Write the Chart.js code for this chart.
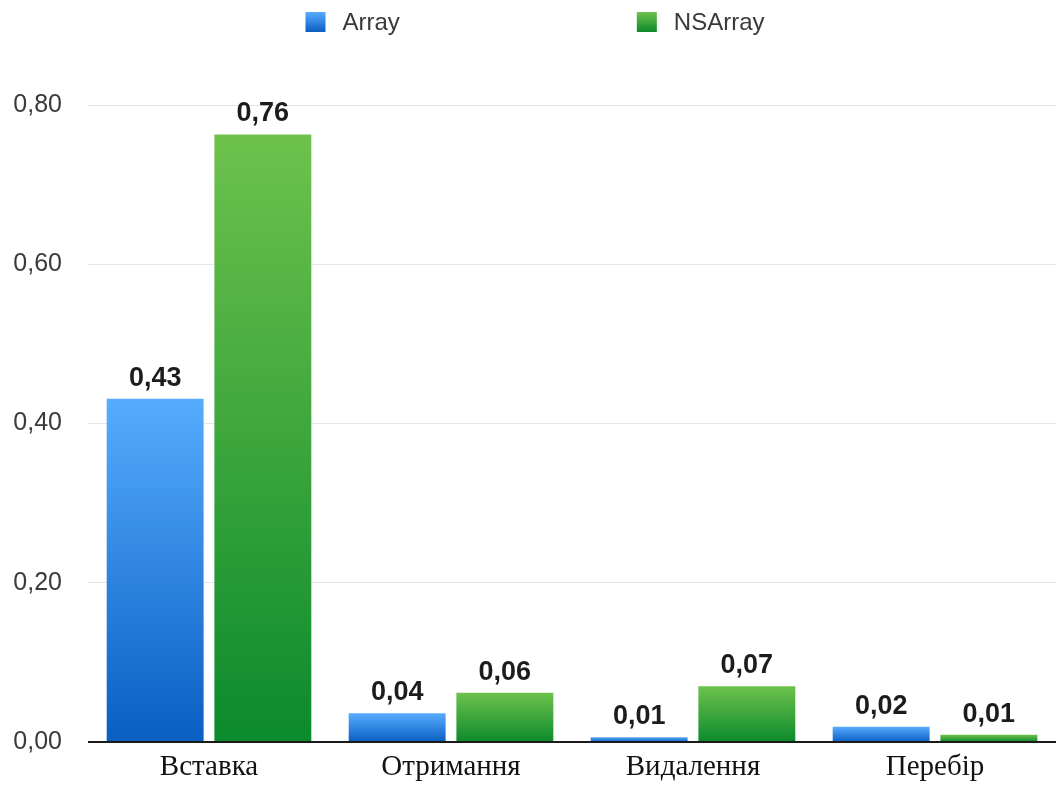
<!DOCTYPE html>
<html>
<head>
<meta charset="utf-8">
<script src="https://cdn.jsdelivr.net/npm/chart.js@4/dist/chart.umd.min.js"></script>
<style>
  html, body { margin: 0; background: #fff; }
  canvas { display: block; }
</style>
</head>
<body>
<canvas id="chart" width="1056" height="785"></canvas>
<script>
// data
const categories = ['Вставка', 'Отримання', 'Видалення', 'Перебір'];
const seriesNames = ['Array', 'NSArray'];
const arrayValues = [0.431, 0.036, 0.006, 0.019];
const nsArrayValues = [0.763, 0.062, 0.070, 0.009];
const yMin = 0, yMax = 0.8, yStep = 0.2;

const fmt = v => v.toFixed(2).replace('.', ',');

// vertical gradient per bar, light on top
function barGradient(top, bottom) {
  return function(ctx) {
    const chart = ctx.chart;
    if (!chart.chartArea || !ctx.parsed) return bottom;
    const y = chart.scales.y;
    const y0 = y.getPixelForValue(ctx.parsed.y);
    const y1 = y.getPixelForValue(0);
    if (y1 - y0 < 1) return top;
    const g = chart.ctx.createLinearGradient(0, y0, 0, y1);
    g.addColorStop(0, top);
    g.addColorStop(1, bottom);
    return g;
  };
}

const colors = [
  { top: '#57acff', bottom: '#0a5ec2' },
  { top: '#6ec24c', bottom: '#0b8a2d' }
];

// numbers above bars
const valueLabels = {
  id: 'valueLabels',
  afterDatasetsDraw(chart) {
    const c = chart.ctx;
    c.save();
    c.font = 'bold 27px "Liberation Sans", Arial, sans-serif';
    c.fillStyle = '#1c1c1c';
    c.textAlign = 'center';
    c.textBaseline = 'alphabetic';
    chart.data.datasets.forEach((ds, i) => {
      chart.getDatasetMeta(i).data.forEach((bar, j) => {
        c.fillText(fmt(ds.data[j]), bar.x, bar.y - 13);
      });
    });
    c.restore();
  }
};

// top legend with wide gap between items
const topLegend = {
  id: 'topLegend',
  afterDraw(chart) {
    const c = chart.ctx;
    c.save();
    c.font = '24px "Liberation Sans", Arial, sans-serif';
    c.textBaseline = 'middle';
    const box = 20, gapText = 17, gapItems = 237, yMid = 22;
    const widths = seriesNames.map(n => box + gapText + c.measureText(n).width);
    const total = widths[0] + gapItems + widths[1];
    let x = (chart.width - total) / 2 + 7;
    seriesNames.forEach((n, i) => {
      const g = c.createLinearGradient(0, yMid - box / 2, 0, yMid + box / 2);
      g.addColorStop(0, colors[i].top);
      g.addColorStop(1, colors[i].bottom);
      c.fillStyle = g;
      c.fillRect(x, yMid - box / 2, box, box);
      c.fillStyle = '#3a3a3a';
      c.fillText(n, x + box + gapText, yMid + 1);
      x += widths[i] + gapItems;
    });
    c.restore();
  }
};

new Chart(document.getElementById('chart').getContext('2d'), {
  type: 'bar',
  data: {
    labels: categories,
    datasets: [
      { label: seriesNames[0], data: arrayValues, backgroundColor: barGradient(colors[0].top, colors[0].bottom) },
      { label: seriesNames[1], data: nsArrayValues, backgroundColor: barGradient(colors[1].top, colors[1].bottom) }
    ]
  },
  options: {
    responsive: false,
    animation: false,
    layout: { padding: { top: 105, left: 12, right: 0, bottom: 0 } },
    datasets: { bar: { categoryPercentage: 0.89, barPercentage: 0.9 } },
    plugins: { legend: { display: false }, tooltip: { enabled: false } },
    scales: {
      x: {
        afterFit: s => { s.height = 43; },
        grid: { display: false },
        border: { display: false },
        ticks: {
          color: '#111',
          padding: 0,
          font: { family: '"Liberation Serif", "Times New Roman", serif', size: 29 }
        }
      },
      y: {
        min: yMin,
        max: yMax,
        afterFit: s => { s.width = 76; },
        border: { display: false },
        grid: {
          drawTicks: false,
          color: ctx => ctx.tick && ctx.tick.value === 0 ? '#1a1a1a' : '#e6e6e6',
          lineWidth: ctx => ctx.tick && ctx.tick.value === 0 ? 2 : 1
        },
        ticks: {
          stepSize: yStep,
          padding: 26,
          color: '#3a3a3a',
          font: { family: '"Liberation Sans", Arial, sans-serif', size: 25 },
          callback: v => fmt(v)
        }
      }
    }
  },
  plugins: [valueLabels, topLegend]
});
</script>
</body>
</html>
